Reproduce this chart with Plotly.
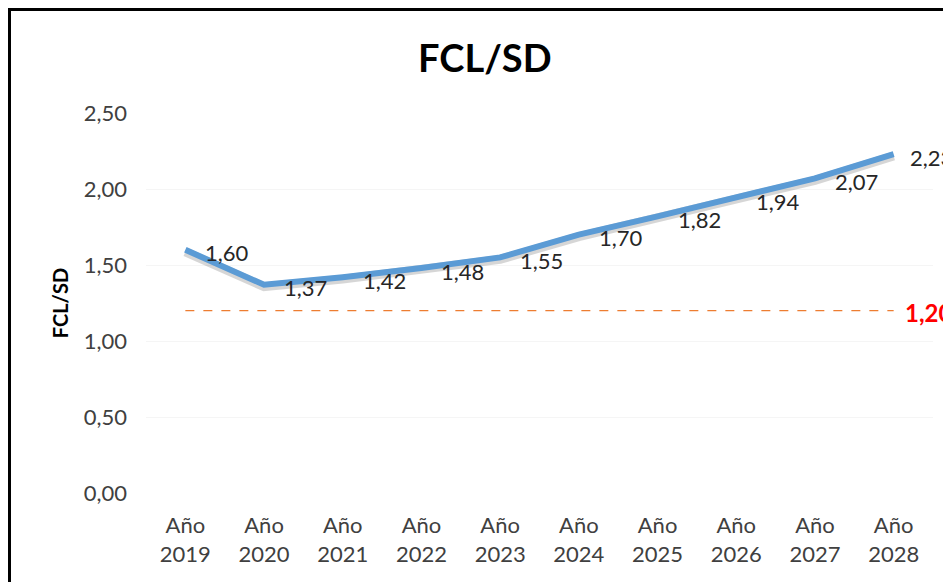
import plotly.graph_objects as go

years = ["2019", "2020", "2021", "2022", "2023", "2024", "2025", "2026", "2027", "2028"]
categories = ["Año<br>" + y for y in years]
fcl_sd = [1.60, 1.37, 1.42, 1.48, 1.55, 1.70, 1.82, 1.94, 2.07, 2.23]
threshold = 1.20
y_ticks = [0.0, 0.5, 1.0, 1.5, 2.0, 2.5]

def fmt(v):
    return f"{v:.2f}".replace(".", ",")

FONT = "Lato, Calibri, Carlito, sans-serif"

fig = go.Figure()

# soft shadow under the main line
fig.add_trace(go.Scatter(
    x=categories, y=[v - 0.013 for v in fcl_sd], mode="lines",
    line=dict(color="rgba(0,0,0,0.16)", width=9),
    hoverinfo="skip", showlegend=False))

fig.add_trace(go.Scatter(
    x=categories, y=fcl_sd, mode="lines",
    line=dict(color="#5B9BD5", width=6),
    showlegend=False))

fig.add_trace(go.Scatter(
    x=[categories[0], categories[-1]], y=[threshold, threshold],
    mode="lines",
    line=dict(color="#ED7D31", width=1.2, dash="dash"),
    showlegend=False))

annotations = []
for i, (c, v) in enumerate(zip(categories, fcl_sd)):
    annotations.append(dict(
        x=c, y=v, xref="x", yref="y", text=fmt(v), showarrow=False,
        xanchor="left", yanchor="middle",
        xshift=14 if i == len(fcl_sd) - 1 else 18, yshift=-3,
        font=dict(family=FONT, size=22, color="#262626")))
annotations.append(dict(
    x=categories[-1], y=threshold, xref="x", yref="y", text="<b>" + fmt(threshold) + "</b>",
    showarrow=False, xanchor="left", yanchor="middle", xshift=9, yshift=-2,
    font=dict(family=FONT, size=24, color="#FF0000")))
annotations.append(dict(
    text="<b>FCL/SD</b>", xref="paper", yref="paper",
    x=0.431, y=1.147, xanchor="center", yanchor="middle", showarrow=False,
    font=dict(family=FONT, size=38, color="#000000")))
annotations.append(dict(
    text="<b>FCL/SD</b>", xref="paper", yref="paper",
    x=-0.109, y=0.5, xanchor="center", yanchor="middle", textangle=-90, showarrow=False,
    font=dict(family=FONT, size=20, color="#000000")))

fig.update_layout(
    width=951, height=582,
    margin=dict(l=138, r=26, t=105, b=97),
    paper_bgcolor="white", plot_bgcolor="white",
    separators=",.",
    font=dict(family=FONT, size=22, color="#404040"),
    xaxis=dict(type="category", range=[-0.5, 9.5], showgrid=False,
               showline=False, ticks="", ticklabelstandoff=17,
               tickfont=dict(size=22, color="#404040")),
    yaxis=dict(range=[0, 2.5], tickvals=y_ticks, tickformat=".2f",
               showgrid=True, gridcolor="#F5F5F5", gridwidth=1,
               zeroline=False, showline=False, ticks="", ticklabelstandoff=18,
               tickfont=dict(size=22, color="#404040")),
    annotations=annotations,
    shapes=[dict(type="rect", xref="paper", yref="paper",
                 x0=(1.5 - 138) / 787, y0=-0.4, x1=1.2, y1=(485 - 1.5) / 380,
                 line=dict(color="#000000", width=3))],
)

fig.write_html("out.html")
